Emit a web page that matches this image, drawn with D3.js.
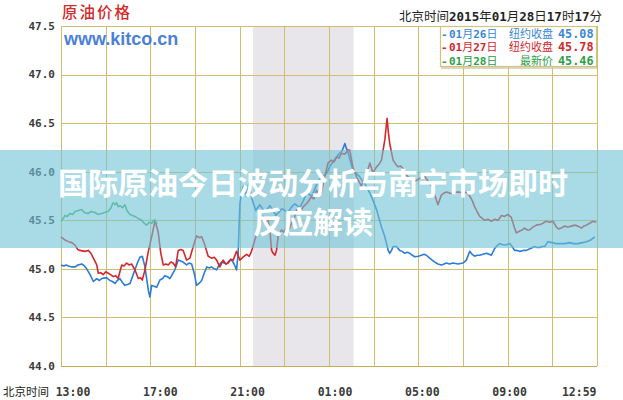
<!DOCTYPE html>
<html><head><meta charset="utf-8">
<script src="https://cdn.jsdelivr.net/npm/d3@7"></script>
<style>body{margin:0;background:#fff;overflow:hidden}</style>
</head><body><svg id="c" width="623" height="400"></svg>
<script>
// ---------- data ----------
const yTicks = [44.0, 44.5, 45.0, 45.5, 46.0, 46.5, 47.0, 47.5];
const gridHours = [0, 2, 4, 6, 8, 10, 12, 14, 16, 18, 20, 22, 24];
const xTickHours = [0, 4, 8, 12, 16, 20, 23.98];
const xTickLabels = ["13:00", "17:00", "21:00", "01:00", "05:00", "09:00", "12:59"];
const shadeHours = [8.6, 13.1];

const legendDates = ["01月26日", "01月27日", "01月28日"];
const legendNames = ["纽约收盘", "纽约收盘", "最新价"];
const legendValues = ["45.08", "45.78", "45.46"];

const greenSeries = [[0.00,45.49],[0.10,45.52],[0.18,45.55],[0.28,45.54],[0.40,45.57],[0.52,45.56],[0.63,45.59],[0.78,45.60],[0.93,45.61],[1.05,45.58],[1.21,45.57],[1.35,45.59],[1.52,45.58],[1.65,45.56],[1.82,45.57],[1.95,45.58],[2.10,45.59],[2.22,45.62],[2.33,45.68],[2.42,45.66],[2.49,45.68],[2.56,45.64],[2.64,45.65],[2.75,45.63],[2.86,45.66],[2.95,45.60],[3.09,45.56],[3.20,45.55],[3.31,45.54],[3.45,45.52],[3.61,45.50],[3.72,45.47],[3.83,45.45],[3.95,45.48],[4.06,45.47],[4.15,45.50],[4.21,45.50],[4.30,45.46]];

const redSeries = [[0.00,45.33],[0.16,45.30],[0.33,45.28],[0.49,45.27],[0.63,45.245],[0.75,45.20],[0.85,45.19],[1.07,45.18],[1.22,45.19],[1.34,45.16],[1.45,45.11],[1.60,45.04],[1.67,44.955],[1.78,44.96],[1.89,44.94],[2.00,44.97],[2.12,44.955],[2.22,44.94],[2.34,44.92],[2.45,44.93],[2.56,44.90],[2.65,44.98],[2.72,45.04],[2.82,45.03],[2.94,45.06],[3.05,45.04],[3.16,45.05],[3.31,44.99],[3.46,44.90],[3.55,44.91],[3.64,44.885],[3.76,44.99],[3.91,45.18],[4.06,45.33],[4.21,45.50],[4.35,45.38],[4.47,45.16],[4.58,45.04],[4.70,45.05],[4.80,45.04],[4.92,45.07],[5.02,45.06],[5.13,45.02],[5.25,45.19],[5.36,45.20],[5.47,45.19],[5.62,45.09],[5.77,45.11],[5.92,45.23],[6.07,45.34],[6.20,45.32],[6.30,45.33],[6.44,45.245],[6.59,45.13],[6.74,45.11],[6.86,45.12],[6.97,45.09],[7.11,45.02],[7.26,45.09],[7.38,45.05],[7.49,45.06],[7.60,45.10],[7.71,45.09],[7.86,45.18],[8.01,45.09],[8.15,45.12],[8.31,45.15],[8.43,45.13],[8.53,45.18],[8.68,45.30],[8.80,45.38],[8.90,45.47],[9.05,45.54],[9.18,45.49],[9.27,45.50],[9.35,45.40],[9.43,45.19],[9.50,45.16],[9.58,45.14],[9.65,45.19],[9.72,45.33],[9.87,45.40],[9.98,45.38],[10.10,45.42],[10.22,45.41],[10.32,45.47],[10.45,45.52],[10.55,45.61],[10.69,45.58],[10.85,45.64],[10.99,45.67],[11.10,45.70],[11.19,45.74],[11.32,45.72],[11.44,45.81],[11.55,45.76],[11.66,45.78],[11.81,45.95],[11.96,46.09],[12.11,46.12],[12.22,46.10],[12.34,46.15],[12.45,46.14],[12.56,46.19],[12.71,46.18],[12.84,46.22],[12.93,46.22],[13.08,46.035],[13.23,45.95],[13.34,45.90],[13.45,45.85],[13.57,45.93],[13.68,45.98],[13.83,46.09],[13.97,45.99],[14.13,46.05],[14.25,46.08],[14.35,46.12],[14.50,46.33],[14.60,46.55],[14.66,46.40],[14.72,46.29],[14.87,46.12],[14.98,46.08],[15.09,46.05],[15.20,46.06],[15.32,46.03],[15.42,45.98],[15.53,45.95],[15.70,45.92],[15.84,45.90],[16.05,45.93],[16.29,45.95],[16.45,45.90],[16.60,45.85],[16.81,45.71],[16.88,45.66],[17.03,45.76],[17.15,45.78],[17.26,45.79],[17.40,45.78],[17.55,45.77],[17.70,45.79],[17.85,45.79],[18.00,45.78],[18.15,45.79],[18.30,45.75],[18.42,45.70],[18.52,45.64],[18.65,45.58],[18.75,45.54],[18.86,45.52],[18.97,45.50],[19.12,45.51],[19.27,45.49],[19.42,45.51],[19.57,45.50],[19.72,45.55],[19.86,45.54],[20.01,45.56],[20.16,45.53],[20.31,45.42],[20.39,45.37],[20.54,45.39],[20.65,45.40],[20.76,45.42],[20.88,45.40],[20.98,45.40],[21.13,45.43],[21.28,45.45],[21.50,45.46],[21.73,45.49],[21.88,45.48],[22.03,45.49],[22.18,45.43],[22.29,45.41],[22.40,45.42],[22.55,45.44],[22.70,45.43],[22.85,45.44],[23.00,45.45],[23.15,45.44],[23.30,45.42],[23.41,45.44],[23.52,45.45],[23.67,45.47],[23.82,45.49],[23.97,45.48]];

const blueSeries = [[0.00,45.04],[0.13,45.03],[0.23,45.04],[0.33,45.03],[0.49,45.02],[0.63,45.02],[0.76,45.04],[0.93,45.05],[1.05,45.03],[1.15,45.00],[1.30,44.94],[1.45,44.87],[1.60,44.90],[1.72,44.88],[1.82,44.90],[2.04,44.91],[2.19,44.88],[2.30,44.87],[2.42,44.85],[2.52,44.88],[2.64,44.90],[2.75,44.86],[2.86,44.83],[2.97,44.84],[3.09,44.85],[3.20,44.92],[3.31,44.99],[3.42,45.06],[3.53,45.12],[3.64,45.13],[3.76,45.02],[3.91,44.78],[3.98,44.71],[4.06,44.83],[4.17,44.82],[4.28,44.81],[4.43,44.885],[4.55,44.90],[4.65,44.93],[4.77,44.92],[4.88,44.90],[5.00,44.95],[5.10,44.99],[5.25,45.09],[5.36,45.08],[5.47,45.07],[5.62,45.04],[5.73,45.06],[5.85,45.05],[5.97,44.95],[6.07,44.83],[6.18,44.85],[6.30,44.88],[6.42,44.96],[6.53,45.02],[6.63,45.01],[6.74,45.02],[6.86,45.00],[6.97,44.99],[7.08,45.04],[7.19,45.07],[7.30,45.06],[7.41,45.05],[7.52,45.08],[7.64,45.09],[7.75,45.05],[7.86,44.99],[7.93,45.15],[8.01,45.67],[8.08,45.78],[8.16,45.85],[8.28,45.75],[8.41,45.88],[8.55,45.72],[8.72,45.60],[8.90,45.66],[9.02,45.62],[9.13,45.58],[9.25,45.62],[9.35,45.65],[9.50,45.60],[9.62,45.55],[9.75,45.58],[9.89,45.62],[10.02,45.60],[10.16,45.58],[10.30,45.63],[10.47,45.67],[10.58,45.65],[10.69,45.63],[10.85,45.70],[10.99,45.78],[11.10,45.77],[11.23,45.75],[11.36,45.82],[11.50,45.90],[11.70,45.95],[11.89,45.98],[12.03,46.05],[12.17,46.10],[12.33,46.15],[12.48,46.19],[12.60,46.22],[12.71,46.29],[12.78,46.24],[12.86,46.19],[12.97,46.10],[13.08,46.01],[13.23,45.98],[13.37,45.95],[13.48,45.91],[13.60,45.88],[13.71,45.83],[13.83,45.78],[13.98,45.70],[14.13,45.61],[14.24,45.52],[14.35,45.43],[14.50,45.33],[14.65,45.19],[14.72,45.16],[14.80,45.19],[14.87,45.23],[15.02,45.23],[15.17,45.19],[15.28,45.18],[15.39,45.16],[15.50,45.17],[15.62,45.16],[15.73,45.14],[15.84,45.125],[16.00,45.13],[16.14,45.14],[16.25,45.15],[16.36,45.14],[16.51,45.11],[16.62,45.09],[16.74,45.07],[16.88,45.05],[17.03,45.04],[17.15,45.05],[17.26,45.06],[17.40,45.05],[17.55,45.06],[17.78,45.05],[18.00,45.06],[18.15,45.09],[18.30,45.18],[18.41,45.15],[18.52,45.13],[18.63,45.14],[18.75,45.14],[18.90,45.15],[19.05,45.16],[19.17,45.15],[19.27,45.14],[19.42,45.21],[19.53,45.24],[19.64,45.26],[19.75,45.25],[19.86,45.245],[19.97,45.25],[20.09,45.26],[20.20,45.23],[20.31,45.19],[20.42,45.19],[20.54,45.18],[20.70,45.19],[20.84,45.19],[21.02,45.21],[21.21,45.23],[21.32,45.22],[21.43,45.22],[21.55,45.23],[21.66,45.23],[21.80,45.28],[22.00,45.27],[22.15,45.26],[22.33,45.26],[22.55,45.26],[22.77,45.27],[22.95,45.26],[23.15,45.26],[23.35,45.27],[23.52,45.28],[23.64,45.29],[23.74,45.30],[23.90,45.33]];

// ---------- drawing ----------
const svg = d3.select("#c");
const W = 623, H = 400;
const x = d3.scaleLinear().domain([0, 24]).range([61, 597]);
const y = d3.scaleLinear().domain([44.0, 47.5]).range([366, 26]);
const gridColor = "#d2bd6c";
const mono = "'DejaVu Sans Mono', monospace";
const cjk = "'Noto Sans CJK SC', sans-serif";

svg.append("rect").attr("width", W).attr("height", H).attr("fill", "#fff");

// shaded session
svg.append("rect")
  .attr("x", x(shadeHours[0])).attr("y", y(47.5))
  .attr("width", x(shadeHours[1]) - x(shadeHours[0]))
  .attr("height", y(44.0) - y(47.5))
  .attr("fill", "#e8e6ea");

// grid
const g = svg.append("g").attr("shape-rendering", "crispEdges");
g.selectAll(".hl").data(yTicks).join("line")
  .attr("x1", x(0)).attr("x2", x(24))
  .attr("y1", d => Math.round(y(d)) + 0.5).attr("y2", d => Math.round(y(d)) + 0.5)
  .attr("stroke", gridColor).attr("stroke-width", 1);
g.selectAll(".vl").data(gridHours).join("line")
  .attr("y1", y(47.5)).attr("y2", y(44.0))
  .attr("x1", d => Math.round(x(d)) + 0.5).attr("x2", d => Math.round(x(d)) + 0.5)
  .attr("stroke", gridColor).attr("stroke-width", d => (d === 0 || d === 24) ? 1.5 : 1);
g.append("line").attr("x1", x(0)).attr("x2", x(24)).attr("y1", y(44) + 0.5).attr("y2", y(44) + 0.5)
  .attr("stroke", "#c4ab55").attr("stroke-width", 1.5);

// y labels
svg.selectAll(".yl").data(yTicks).join("text")
  .attr("x", 55).attr("y", d => y(d)).attr("dy", "0.35em")
  .attr("text-anchor", "end")
  .attr("font-family", mono).attr("font-weight", "bold").attr("font-size", 11)
  .attr("fill", "#3a3a3a")
  .text(d => d.toFixed(1));

// x labels
svg.selectAll(".xl").data(xTickHours).join("text")
  .attr("x", (d, i) => i === xTickHours.length - 1 ? x(d) : x(d) + 12 - 2 * i)
  .attr("y", 396)
  .attr("text-anchor", (d, i) => i === xTickHours.length - 1 ? "end" : "middle")
  .attr("font-family", mono).attr("font-weight", "bold").attr("font-size", 11.5)
  .attr("fill", "#3a3a3a")
  .text((d, i) => xTickLabels[i]);
svg.append("text").attr("x", 3).attr("y", 396)
  .attr("font-family", cjk).attr("font-size", 11.5).attr("fill", "#222")
  .text("北京时间");

// series
const line = d3.line().x(d => x(d[0])).y(d => y(d[1]));
[[blueSeries, "#2a7cd6"], [redSeries, "#d4262b"], [greenSeries, "#45b46a"]].forEach(([s, c]) => {
  svg.append("path").datum(s).attr("d", line)
    .attr("fill", "none").attr("stroke", c).attr("stroke-width", 1.6)
    .attr("stroke-linejoin", "round");
});

// mixed text helper
function mixed(sel, str, size, color, cjkWeight, asciiWeight) {
  const parts = str.match(/[\x00-\x7F]+|[^\x00-\x7F]+/g);
  parts.forEach(p => {
    const ascii = /^[\x00-\x7F]+$/.test(p);
    sel.append("tspan").text(p)
      .attr("font-family", ascii ? mono : cjk)
      .attr("font-weight", ascii ? asciiWeight : cjkWeight)
      .attr("font-size", size).attr("fill", color);
  });
}

// top titles
svg.append("text").attr("x", 62).attr("y", 18)
  .attr("font-family", cjk).attr("font-size", 15.5).attr("font-weight", 500)
  .attr("letter-spacing", 2).attr("fill", "#d42a2a").text("原油价格");
svg.append("text").attr("x", 64).attr("y", 45)
  .attr("font-family", "'Liberation Sans', Arial, sans-serif").attr("font-weight", "bold")
  .attr("font-size", 18).attr("fill", "#4a80d8").text("www.kitco.cn");
const tt = svg.append("text").attr("x", 602).attr("y", 21).attr("text-anchor", "end");
mixed(tt, "北京时间2015年01月28日17时17分", 12.5, "#222", "normal", "bold");

// legend
const legColors = ["#3a88d6", "#d0282e", "#2e9e48"];
svg.append("rect").attr("x", 440.5).attr("y", 26.5).attr("width", 156).attr("height", 40)
  .attr("fill", "#fff").attr("stroke", "#d2c27c").attr("stroke-width", 1.2);
svg.append("line").attr("x1", 441).attr("x2", 597).attr("y1", 68).attr("y2", 68)
  .attr("stroke", "#cfc8a8").attr("stroke-width", 1.5);
legendDates.forEach((dte, i) => {
  const yy = 38 + i * 13.3;
  const t1 = svg.append("text").attr("x", 441).attr("y", yy);
  mixed(t1, "-", 11, legColors[i], "normal", "bold");
  const t2 = svg.append("text").attr("x", 449).attr("y", yy);
  mixed(t2, dte, 11, legColors[i], "normal", "bold");
  svg.append("text").attr("x", 553).attr("y", yy).attr("text-anchor", "end")
    .attr("font-family", cjk).attr("font-size", 11).attr("fill", legColors[i]).text(legendNames[i]);
  const t4 = svg.append("text").attr("x", 558).attr("y", yy);
  mixed(t4, legendValues[i], 11.8, legColors[i], "normal", "bold");
});

// banner overlay
svg.append("rect").attr("x", 0).attr("y", 150).attr("width", W).attr("height", 98)
  .attr("fill", "#70c3d5").attr("fill-opacity", 0.6);
const bannerLines = ["国际原油今日波动分析与南宁市场即时", "反应解读"];
svg.selectAll(".bt").data(bannerLines).join("text")
  .attr("x", 313).attr("y", (d, i) => 194 + i * 39)
  .attr("text-anchor", "middle")
  .attr("font-family", cjk).attr("font-weight", 700).attr("font-size", 30)
  .attr("fill", "#fff")
  .text(d => d);
</script></body></html>
